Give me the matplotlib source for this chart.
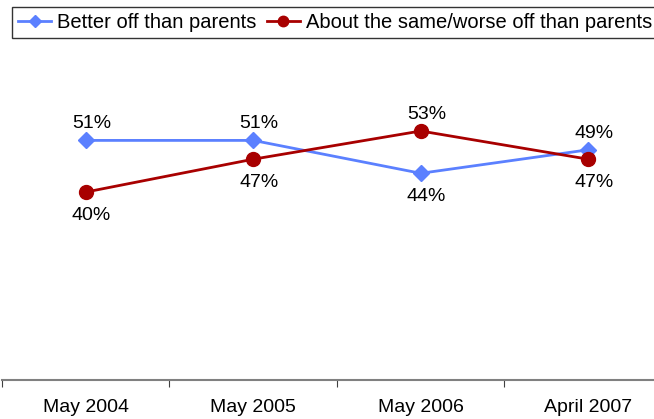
import numpy as np
import matplotlib.pyplot as plt

# ----------------------------------------------------------------------
#  Data
# ----------------------------------------------------------------------

periods = ['May 2004', 'May 2005', 'May 2006', 'April 2007']
better = [51, 51, 44, 49]
same_worse = [40, 47, 53, 47]

# label placement relative to each marker
better_pos = ['above', 'above', 'below', 'above']
same_pos = ['below', 'below', 'above', 'below']

blue = '#5B80FF'
red = '#A80000'

plt.rcParams['font.family'] = ['Liberation Sans', 'DejaVu Sans']

# ----------------------------------------------------------------------
#  Plot
# ----------------------------------------------------------------------

fig = plt.figure(figsize=(6.54, 4.19), dpi=100)
ax = fig.add_axes([2 / 654, 39 / 419, 670 / 654, 350 / 419])

x = np.arange(len(periods))
ax.plot(x, better, color=blue, lw=2, marker='D', ms=8,
        label='Better off than parents')
ax.plot(x, same_worse, color=red, lw=2, marker='o', ms=10,
        label='About the same/worse off than parents')

def put_labels(vals, where):
    for xi, v, w in zip(x, vals, where):
        dy = 12 if w == 'above' else -17
        ax.annotate(f'{v}%', (xi, v), xytext=(4, dy), textcoords='offset points',
                    ha='center', va='center', fontsize=14)

put_labels(better, better_pos)
put_labels(same_worse, same_pos)

ax.set_xlim(-0.5, len(periods) - 0.5)
ax.set_ylim(0, 74.5)

for s in ['top', 'right', 'left']:
    ax.spines[s].set_visible(False)
ax.spines['bottom'].set_color('#808080')
ax.spines['bottom'].set_linewidth(1.5)
ax.set_yticks([])

# boundary ticks, labels centred under each period
ax.set_xticks(np.arange(len(periods) + 1) - 0.5)
ax.set_xticklabels([])
ax.tick_params(axis='x', which='major', length=5, color='#404040', direction='out')
ax.set_xticks(x, minor=True)
ax.set_xticklabels(periods, minor=True, fontsize=14)
ax.tick_params(axis='x', which='minor', length=0, pad=14)

leg = fig.legend(loc='upper left', bbox_to_anchor=(12 / 654, 1 - 7 / 419),
                 ncol=2, fontsize=14.5, frameon=True, fancybox=False,
                 handlelength=1.65, handletextpad=0.3, columnspacing=0.5,
                 borderpad=0.3, borderaxespad=0, markerscale=0.75)
leg.get_frame().set_edgecolor('black')
leg.get_frame().set_linewidth(1)

fig.savefig('out.png', dpi=100)
